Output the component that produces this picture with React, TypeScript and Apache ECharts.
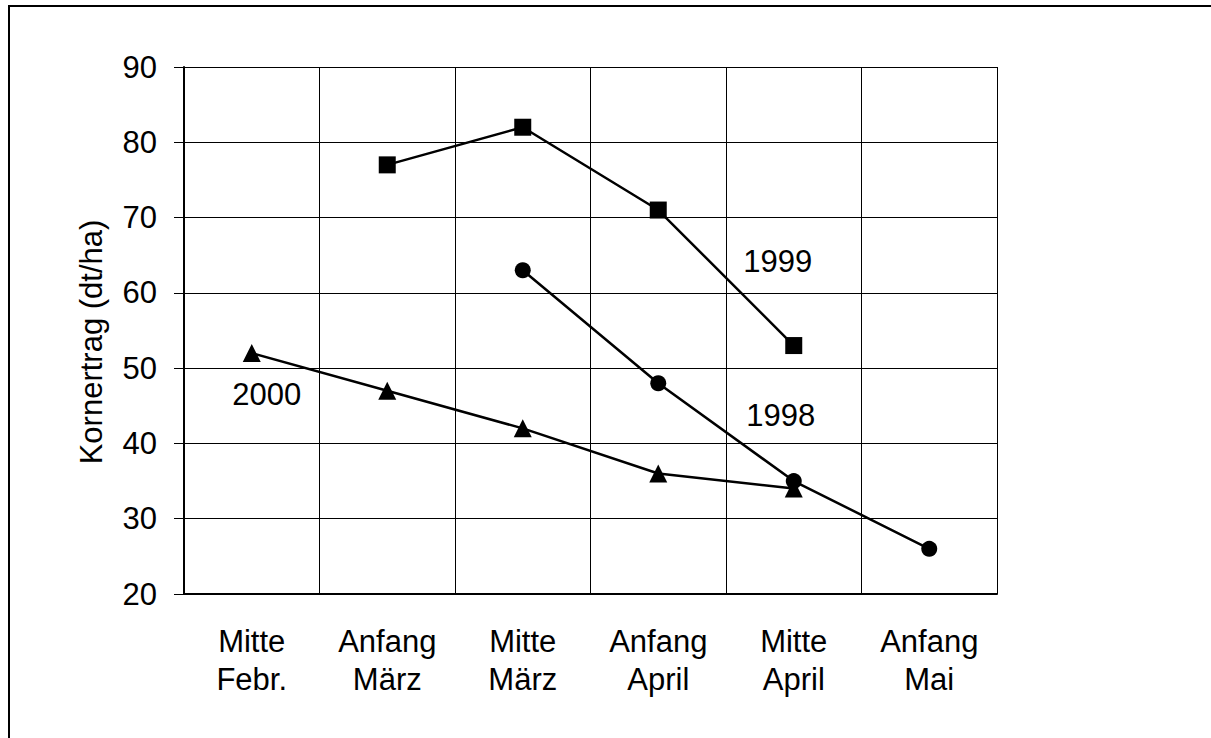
import React, { useEffect, useRef } from "react";
import * as echarts from "echarts";

const categories = ["Mitte\nFebr.", "Anfang\nMärz", "Mitte\nMärz", "Anfang\nApril", "Mitte\nApril", "Anfang\nMai"];
const yTicks = { min: 20, max: 90, interval: 10 };
const values1999 = [null, 77, 82, 71, 53, null];
const values1998 = [null, null, 63, 48, 35, 26];
const values2000 = [52, 47, 42, 36, 34, null];
const yAxisTitle = "Kornertrag (dt/ha)";

const FONT = "'Liberation Sans', Arial, sans-serif";
const FS = 31;

function withLabel(values: (number | null)[], idx: number, text: string, offset: number[]) {
  return values.map((v, i) =>
    i === idx && v != null
      ? {
          value: v,
          label: {
            show: true,
            position: "inside",
            offset,
            formatter: text,
            color: "#000",
            fontSize: FS,
            fontFamily: FONT,
          },
        }
      : v
  );
}

export default function App() {
  const ref = useRef<HTMLDivElement>(null);
  useEffect(() => {
    if (!ref.current) return;
    const chart = echarts.init(ref.current, null, { renderer: "svg" });
    const lineStyle = { color: "#000", width: 2.5 };
    chart.setOption({
      animation: false,
      backgroundColor: "#fff",
      grid: { left: 184, top: 67, width: 813, height: 527 },
      xAxis: {
        type: "category",
        data: categories,
        boundaryGap: true,
        axisLine: { show: true, lineStyle: { color: "#000", width: 2 } },
        axisTick: { show: false },
        axisLabel: {
          color: "#000",
          fontSize: FS,
          fontFamily: FONT,
          lineHeight: 38,
          margin: 28,
          interval: 0,
        },
        splitLine: { show: true, lineStyle: { color: "#000", width: 1 } },
      },
      yAxis: {
        type: "value",
        min: yTicks.min,
        max: yTicks.max,
        interval: yTicks.interval,
        axisLine: { show: true, lineStyle: { color: "#000", width: 2 } },
        axisTick: { show: true, length: 10, lineStyle: { color: "#000", width: 1 } },
        axisLabel: { color: "#000", fontSize: FS, fontFamily: FONT, margin: 27 },
        splitLine: { show: true, lineStyle: { color: "#000", width: 1 } },
      },
      graphic: [
        {
          type: "rect",
          shape: { x: 9, y: 6, width: 1400, height: 900 },
          style: { fill: "none", stroke: "#000", lineWidth: 2 },
          silent: true,
        },
        {
          type: "text",
          x: 91,
          y: 342,
          rotation: Math.PI / 2,
          style: {
            text: yAxisTitle,
            fontSize: FS,
            fontFamily: FONT,
            fill: "#000",
            align: "center",
            verticalAlign: "middle",
          },
        },
      ],
      series: [
        {
          name: "1999",
          type: "line",
          data: withLabel(values1999, 4, "1999", [-16, -84]),
          symbol: "rect",
          symbolSize: 17,
          itemStyle: { color: "#000" },
          lineStyle,
          connectNulls: false,
          z: 3,
        },
        {
          name: "1998",
          type: "line",
          data: withLabel(values1998, 4, "1998", [-13, -66]),
          symbol: "circle",
          symbolSize: 16,
          itemStyle: { color: "#000" },
          lineStyle,
          z: 3,
        },
        {
          name: "2000",
          type: "line",
          data: withLabel(values2000, 0, "2000", [15, 41]),
          symbol: "triangle",
          symbolSize: 18,
          itemStyle: { color: "#000" },
          lineStyle,
          z: 3,
        },
      ],
    });
    return () => chart.dispose();
  }, []);
  return (
    <div
      ref={ref}
      style={{ position: "absolute", left: 0, top: 0, width: 1211, height: 738 }}
    />
  );
}
